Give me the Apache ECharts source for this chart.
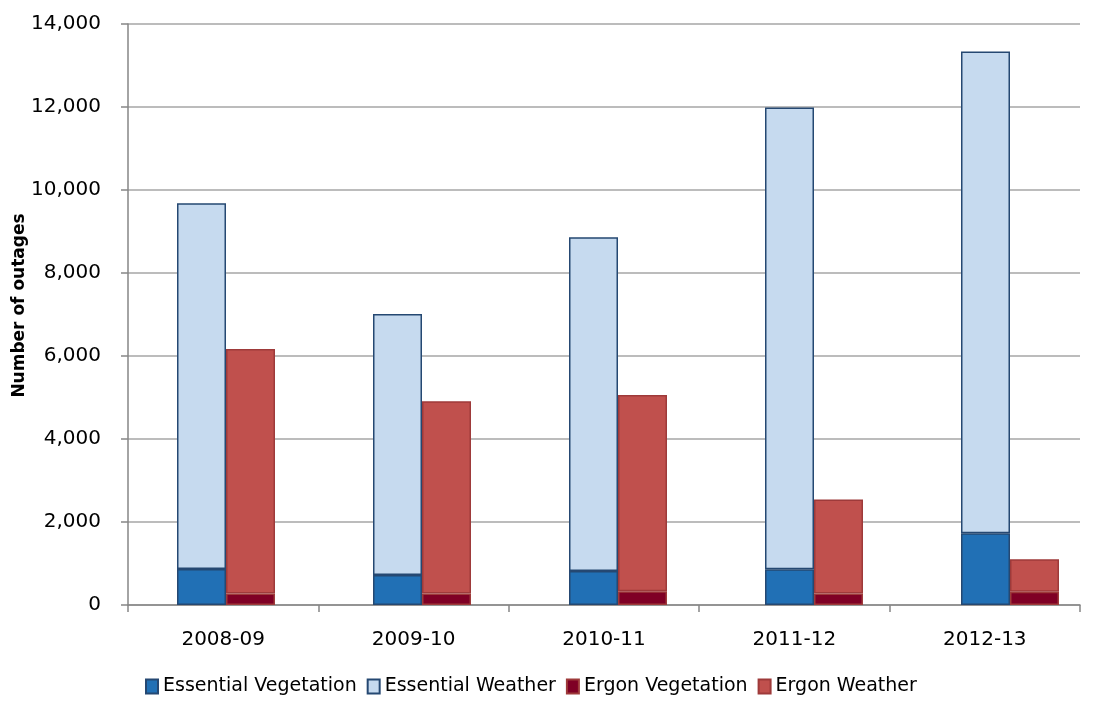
<!DOCTYPE html>
<html>
<head>
<meta charset="utf-8">
<script src="https://cdn.jsdelivr.net/npm/echarts@6/dist/echarts.min.js"></script>
<style>
html,body{margin:0;padding:0;background:#fff;}
#chart{width:1096px;height:711px;}
</style>
</head>
<body>
<div id="chart"></div>
<script>
const categories = ['2008-09', '2009-10', '2010-11', '2011-12', '2012-13'];
const essentialVegetation = [870, 720, 820, 860, 1730];
const essentialWeatherTotal = [9680, 7010, 8860, 11990, 13340];
const ergonVegetation = [280, 280, 330, 280, 320];
const ergonWeatherTotal = [6170, 4910, 5060, 2540, 1100];
const yTicks = [0, 2000, 4000, 6000, 8000, 10000, 12000, 14000];

const essentialWeather = essentialWeatherTotal.map((t, i) => t - essentialVegetation[i]);
const ergonWeather = ergonWeatherTotal.map((t, i) => t - ergonVegetation[i]);

const FONT = 'DejaVu Sans';
const chart = echarts.init(document.getElementById('chart'), null, {renderer: 'canvas'});

function bar(name, data, stack, color, border) {
  return {
    name, type: 'bar', stack, data,
    xAxisIndex: 1, yAxisIndex: 1,
    barWidth: 49, barGap: '0%',
    itemStyle: {color, borderColor: border, borderWidth: 1.5},
    emphasis: {disabled: true}
  };
}

const axisGray = '#868686';

chart.setOption({
  animation: false,
  backgroundColor: '#fff',
  grid: [
    {left: 128, width: 952, top: 24, height: 581, containLabel: false, outerBoundsMode: 'none'},
    {left: 128, width: 980, top: 24, height: 581, containLabel: false, outerBoundsMode: 'none'}
  ],
  legend: {
    bottom: 10, left: 140,
    icon: 'rect',
    itemWidth: 12, itemHeight: 14, itemGap: 10,
    textStyle: {fontFamily: FONT, fontSize: 19, color: '#000'},
    data: ['Essential Vegetation', 'Essential Weather', 'Ergon Vegetation', 'Ergon Weather']
  },
  xAxis: [
    {
      type: 'category', data: categories, gridIndex: 0,
      axisLine: {lineStyle: {color: axisGray, width: 1.5}},
      axisTick: {show: true, length: 7, lineStyle: {color: axisGray, width: 1.5}},
      axisLabel: {fontFamily: FONT, fontSize: 20, color: '#000', margin: 25}
    },
    {
      type: 'category', data: categories, gridIndex: 1, show: false
    }
  ],
  yAxis: [
    {
      type: 'value', min: 0, max: 14000, interval: 2000, gridIndex: 0,
      name: 'Number of outages', nameLocation: 'middle', nameGap: 100, nameRotate: 90,
      nameMoveOverlap: false,
      nameTextStyle: {fontFamily: FONT, fontSize: 17, fontWeight: 'bold', color: '#000', padding: [0, 0, 0, 18]},
      axisLine: {show: true, lineStyle: {color: axisGray, width: 1.5}},
      axisTick: {show: true, length: 7, lineStyle: {color: axisGray, width: 1.5}},
      axisLabel: {
        fontFamily: FONT, fontSize: 20, color: '#000', margin: 27,
        formatter: v => yTicks.includes(v) ? v.toLocaleString('en-US') : ''
      },
      splitLine: {lineStyle: {color: '#A6A6A6', width: 1.5}}
    },
    {
      type: 'value', min: 0, max: 14000, interval: 2000, gridIndex: 1, show: false,
      splitLine: {show: false}
    }
  ],
  series: [
    bar('Essential Vegetation', essentialVegetation, 'essential', '#2170B5', '#254872'),
    bar('Essential Weather', essentialWeather, 'essential', '#C6DAEF', '#254872'),
    bar('Ergon Vegetation', ergonVegetation, 'ergon', '#7F0025', '#9E3A3A'),
    bar('Ergon Weather', ergonWeather, 'ergon', '#C0504D', '#9E3A3A')
  ]
});
</script>
</body>
</html>
